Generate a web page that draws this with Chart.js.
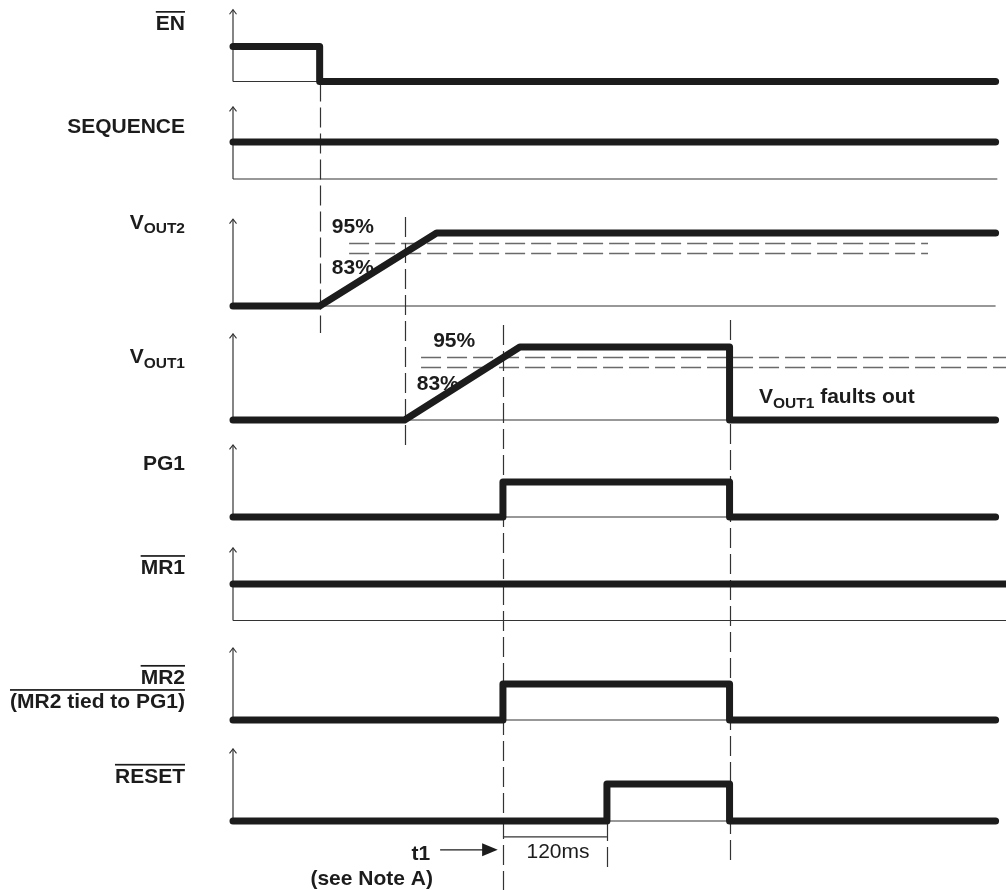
<!DOCTYPE html>
<html><head><meta charset="utf-8">
<script src="https://cdn.jsdelivr.net/npm/chart.js@4.4.1/dist/chart.umd.min.js"></script>
<style>html,body{margin:0;padding:0;background:#fff;}#wrap{position:relative;width:1006px;height:890px;}canvas{display:block;}</style>
</head><body><div id="wrap"><canvas id="c" width="1006" height="890"></canvas></div>
<script>
// ---------------- DATA (time in ms, level: 0 = low, 1 = high) ----------------
const signalNames   = ['EN', 'SEQUENCE', 'VOUT2', 'VOUT1', 'PG1', 'MR1', 'MR2', 'RESET'];
const enTimes       = [0, 100, 100, 880];              const enLevels    = [1, 1, 0, 0];
const seqTimes      = [0, 880];                        const seqLevels   = [1, 1];
const vout2Times    = [0, 100, 235, 880];              const vout2Levels = [0, 0, 1, 1];
const vout1Times    = [0, 198, 331, 573, 573, 880];    const vout1Levels = [0, 0, 1, 1, 0, 0];
const pg1Times      = [0, 311.5, 311.5, 573, 573, 880]; const pg1Levels  = [0, 0, 1, 1, 0, 0];
const mr1Times      = [0, 892];                        const mr1Levels   = [1, 1];
const mr2Times      = [0, 311.5, 311.5, 573, 573, 880]; const mr2Levels  = [0, 0, 1, 1, 0, 0];
const resetTimes    = [0, 431.5, 431.5, 573, 573, 880]; const resetLevels = [0, 0, 1, 1, 0, 0];
const thresholdLabels = ['95%', '83%'];
const thresholdLevels = [0.856, 0.72];
const t1Time = 311.5;          // VOUT1 reaches 95%
const resetDelayMs = 120;      // RESET delay after t1
const delayLabel = '120ms';
const faultText = ' faults out';
const t1Text = 't1';
const noteText = '(see Note A)';
const tiedText = '(MR2 tied to PG1)';

const timesList  = [enTimes, seqTimes, vout2Times, vout1Times, pg1Times, mr1Times, mr2Times, resetTimes];
const levelsList = [enLevels, seqLevels, vout2Levels, vout1Levels, pg1Levels, mr1Levels, mr2Levels, resetLevels];

// ---------------- LAYOUT (styling / placement only) ----------------
const W = 1006, H = 890, PLOT_LEFT = 233, T_MAX = 892;
const lanes = [ // baseline pixel, amplitude in px, axis height in levels
  {base: 81.5, amp: 35,   axisTop: 2.05},
  {base: 179,  amp: 37,   axisTop: 1.95},
  {base: 306,  amp: 73,   axisTop: 1.19},
  {base: 420,  amp: 73,   axisTop: 1.18},
  {base: 517,  amp: 35,   axisTop: 2.06},
  {base: 620.5,amp: 36.5, axisTop: 1.99},
  {base: 720,  amp: 36,   axisTop: 2.0},
  {base: 821,  amp: 37,   axisTop: 1.95}
];
const baselineEnd = [880, 882, 880, 880, 880, 892, 880, 880];
const FONT = '"Liberation Sans", Arial, Helvetica, sans-serif';
const FS = 21, SUB = 15.5;
const INK = '#1c1c1c';

const scales = {x: {type: 'linear', display: false, min: 0, max: T_MAX}};
lanes.forEach((l, i) => {
  scales['y' + i] = {type: 'linear', display: false, min: -(H - l.base) / l.amp, max: l.base / l.amp};
});

const datasets = [];
timesList.forEach((ts, i) => {
  datasets.push({
    label: signalNames[i],
    data: ts.map((t, k) => ({x: t, y: levelsList[i][k]})),
    yAxisID: 'y' + i, borderColor: INK, borderWidth: 7, borderCapStyle: 'round', borderJoinStyle: 'round',
    pointRadius: 0, fill: false, tension: 0, clip: false, order: 0
  });
  datasets.push({ // thin time baseline
    label: signalNames[i] + ' base',
    data: [{x: 0, y: 0}, {x: baselineEnd[i], y: 0}],
    yAxisID: 'y' + i, borderColor: '#333', borderWidth: 1.2, pointRadius: 0, fill: false, clip: false, order: 2
  });
  datasets.push({ // vertical level axis
    label: signalNames[i] + ' axis',
    data: [{x: 0, y: 0}, {x: 0, y: lanes[i].axisTop}],
    yAxisID: 'y' + i, borderColor: '#333', borderWidth: 1.2, pointRadius: 0, fill: false, clip: false, order: 2
  });
});

// annotation geometry: [time, lane, level]
const markers = [
  {t: enTimes[1], from: [0, 0], to: [2, -0.37]},
  {t: vout1Times[1], from: [2, 1.22], to: [4, 1.9]},
  {t: t1Time, from: [3, 1.3], to: [7, -1.95]},
  {t: vout1Times[3], from: [3, 1.37], to: [7, -1.15]},
  {t: t1Time + resetDelayMs, from: [7, 0], to: [7, -1.35]}
];
const thresholdSpans = [{lane: 2, from: 134, to: 802}, {lane: 3, from: 217, to: 892}];
const thresholdTextPos = [
  {lane: 2, t: 114, levels: [1.0, 0.44]},
  {lane: 3, t: [231, 212], levels: [1.0, 0.41]}
];
const leftLabels = [
  {lane: 0, parts: [{t: 'EN'}], over: true, level: 1.47},
  {lane: 1, parts: [{t: 'SEQUENCE'}], level: 1.24},
  {lane: 2, parts: [{t: 'V'}, {t: 'OUT2', sub: true}], level: 1.055},
  {lane: 3, parts: [{t: 'V'}, {t: 'OUT1', sub: true}], level: 0.78},
  {lane: 4, parts: [{t: 'PG1'}], level: 1.34},
  {lane: 5, parts: [{t: 'MR1'}], over: true, level: 1.27},
  {lane: 6, parts: [{t: 'MR2'}], over: true, level: 1.0},
  {lane: 6, parts: [{t: tiedText}], over: true, level: 0.33},
  {lane: 7, parts: [{t: 'RESET'}], over: true, level: 1.03}
];
const LABEL_T = -55.4;

function fontOf(p) { return (p.normal ? '' : 'bold ') + (p.sub ? SUB : FS) + 'px ' + FONT; }
function drawRich(ctx, parts, x, y, align, over) {
  const widths = parts.map(p => { ctx.font = fontOf(p); return ctx.measureText(p.t).width; });
  const total = widths.reduce((a, b) => a + b, 0);
  let sx = align === 'right' ? x - total : align === 'center' ? x - total / 2 : x;
  const x0 = sx;
  ctx.textAlign = 'left'; ctx.textBaseline = 'alphabetic'; ctx.fillStyle = INK;
  parts.forEach((p, i) => { ctx.font = fontOf(p); ctx.fillText(p.t, sx, y + (p.sub ? 4.5 : 0)); sx += widths[i]; });
  if (over) ctx.fillRect(x0, y - 0.716 * FS - 4, total, 1.7);
}

const diagramPlugin = {
  id: 'diagram',
  beforeDatasetsDraw(chart) {
    const ctx = chart.ctx, xs = chart.scales.x;
    const px = t => xs.getPixelForValue(t);
    const py = (lane, lv) => chart.scales['y' + lane].getPixelForValue(lv);
    ctx.save();
    // threshold dashed lines
    ctx.strokeStyle = '#6a6a6a'; ctx.lineWidth = 1.4; ctx.setLineDash([20, 6]);
    thresholdSpans.forEach(s => thresholdLevels.forEach(lv => {
      ctx.beginPath(); ctx.moveTo(px(s.from), py(s.lane, lv)); ctx.lineTo(px(s.to), py(s.lane, lv)); ctx.stroke();
    }));
    // vertical dashed event markers
    ctx.strokeStyle = '#333'; ctx.lineWidth = 1.2; ctx.setLineDash([20, 6]);
    markers.forEach(m => {
      const x = Math.round(px(m.t)) + 0.5;
      ctx.beginPath(); ctx.moveTo(x, py(m.from[0], m.from[1])); ctx.lineTo(x, py(m.to[0], m.to[1])); ctx.stroke();
    });
    ctx.setLineDash([]);
    // axis arrowheads
    ctx.strokeStyle = '#333'; ctx.lineWidth = 1.1;
    lanes.forEach((l, i) => {
      const x = px(0), y = py(i, l.axisTop);
      ctx.beginPath(); ctx.moveTo(x - 3.5, y + 4.5); ctx.lineTo(x, y); ctx.lineTo(x + 3.5, y + 4.5); ctx.stroke();
    });
    // 120 ms bracket
    ctx.lineWidth = 1.2;
    const by = py(7, -0.43);
    ctx.beginPath(); ctx.moveTo(px(t1Time), by); ctx.lineTo(px(t1Time + resetDelayMs), by); ctx.stroke();
    ctx.font = FS + 'px ' + FONT; ctx.fillStyle = INK; ctx.textAlign = 'center'; ctx.textBaseline = 'alphabetic';
    ctx.fillText(delayLabel, px(t1Time + 63.5), py(7, -1.0));
    // t1 arrow
    const ay = py(7, -0.78);
    ctx.strokeStyle = INK; ctx.lineWidth = 1.3;
    ctx.beginPath(); ctx.moveTo(px(t1Time - 72.5), ay); ctx.lineTo(px(t1Time - 20), ay); ctx.stroke();
    ctx.beginPath(); ctx.moveTo(px(t1Time - 6), ay); ctx.lineTo(px(t1Time - 24), ay - 6.5); ctx.lineTo(px(t1Time - 24), ay + 6.5); ctx.closePath(); ctx.fill();
    drawRich(ctx, [{t: t1Text}], px(t1Time - 84), py(7, -1.06), 'right');
    drawRich(ctx, [{t: noteText}], px(t1Time - 151.5), py(7, -1.72), 'center');
    // threshold labels
    thresholdTextPos.forEach(tp => {
      thresholdLabels.forEach((s, k) => {
        const t = Array.isArray(tp.t) ? tp.t[k] : tp.t;
        drawRich(ctx, [{t: s}], px(t), py(tp.lane, tp.levels[k]), 'left');
      });
    });
    // fault annotation
    drawRich(ctx, [{t: 'V'}, {t: 'OUT1', sub: true}, {t: faultText}], px(vout1Times[3] + 34), py(3, 0.23), 'left');
    // left signal labels
    leftLabels.forEach(l => drawRich(ctx, l.parts, px(LABEL_T), py(l.lane, l.level), 'right', l.over));
    ctx.restore();
  }
};

new Chart(document.getElementById('c'), {
  type: 'line',
  data: {datasets},
  options: {
    responsive: false, animation: false, events: [],
    layout: {padding: {left: PLOT_LEFT, right: 0, top: 0, bottom: 0}},
    scales,
    plugins: {legend: {display: false}, tooltip: {enabled: false}, title: {display: false}}
  },
  plugins: [diagramPlugin]
});
</script>
</body></html>
